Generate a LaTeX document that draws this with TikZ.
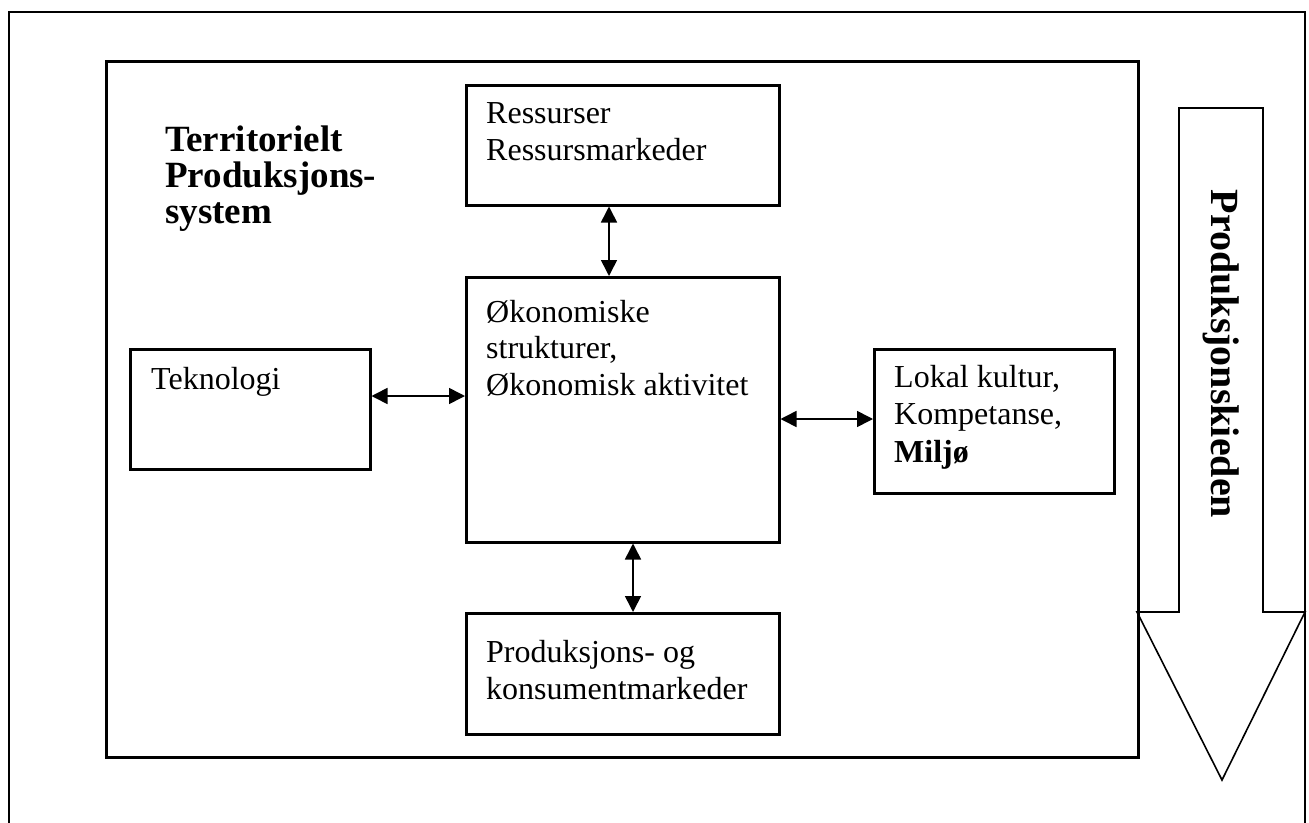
\documentclass[tikz,border=0pt]{standalone}
\usepackage{fontspec}
\setmainfont{Liberation Serif}
\usetikzlibrary{arrows.meta}

\tikzset{
  frame/.style={draw=black, line width=2.5pt},
  box/.style={draw=black, line width=2.5pt, rectangle, inner sep=0pt, anchor=north west},
  txt/.style={anchor=base west, inner sep=0pt, align=left, font=\fontsize{32}{36.5}\selectfont},
  bigtxt/.style={inner sep=0pt, font=\fontsize{37}{36}\selectfont\bfseries},
  link/.style={line width=1.6pt, {Triangle[length=16pt,width=16pt]}-{Triangle[length=16pt,width=16pt]}},
  chain/.style={draw=black, line width=1.6pt, line join=miter},
}

\begin{document}
\begin{tikzpicture}[x=1pt, y=-1pt]
  \useasboundingbox (0,0) rectangle (1309,822);

  % outer frame, open at the bottom
  \draw[frame] (9,823) -- (9,12) -- (1305,12) -- (1305,823);

  % the territorial production system
  \node[box, minimum width=1032pt, minimum height=696pt] (sys) at (105,60) {};
  \node[bigtxt, anchor=base west, align=left] (title) at (165,223)
    {Territorielt\\[0pt]Produksjons-\\[0pt]system};

  % boxes
  \node[box, minimum width=313pt, minimum height=120pt] (res) at (465,84) {};
  \node[box, minimum width=313pt, minimum height=265pt] (eco) at (465,276) {};
  \node[box, minimum width=240pt, minimum height=120pt] (tek) at (129,348) {};
  \node[box, minimum width=240pt, minimum height=144pt] (lok) at (873,348) {};
  \node[box, minimum width=313pt, minimum height=121pt] (mkt) at (465,612) {};

  % box texts (anchored at the baseline of the last line)
  \node[txt] (resT) at (486,160) {Ressurser\\Ressursmarkeder};
  \node[txt] (ecoT) at (486,395) {Økonomiske\\strukturer,\\Økonomisk aktivitet};
  \node[txt] (tekT) at (151,389) {Teknologi};
  \node[txt, font=\fontsize{32}{37.5}\selectfont] (lokT) at (894,462) {Lokal kultur,\\Kompetanse,\\\textbf{Miljø}};
  \node[txt] (mktT) at (486,699) {Produksjons- og\\konsumentmarkeder};

  % two-way links
  \draw[link] ([xshift=144pt]res.south west) -- ([xshift=144pt]eco.north west);
  \draw[link] ([xshift=168pt]eco.south west) -- ([xshift=168pt]mkt.north west);
  \draw[link] ([yshift=-48pt]tek.north east) -- ([yshift=-120pt]eco.north west);
  \draw[link] ([yshift=-143pt]eco.north east) -- ([yshift=-71pt]lok.north west);

  % production chain arrow
  \draw[chain] (1179,108) -- (1263,108) -- (1263,612) -- (1305,612)
    -- (1222,780) -- (1137,612) -- (1179,612) -- cycle;
  \coordinate (chainC) at (1221,354);
  \node[bigtxt, rotate=-90, font=\fontsize{40}{40}\selectfont\bfseries] (chainT) at (chainC) {Produksjonskieden};
\end{tikzpicture}
\end{document}
